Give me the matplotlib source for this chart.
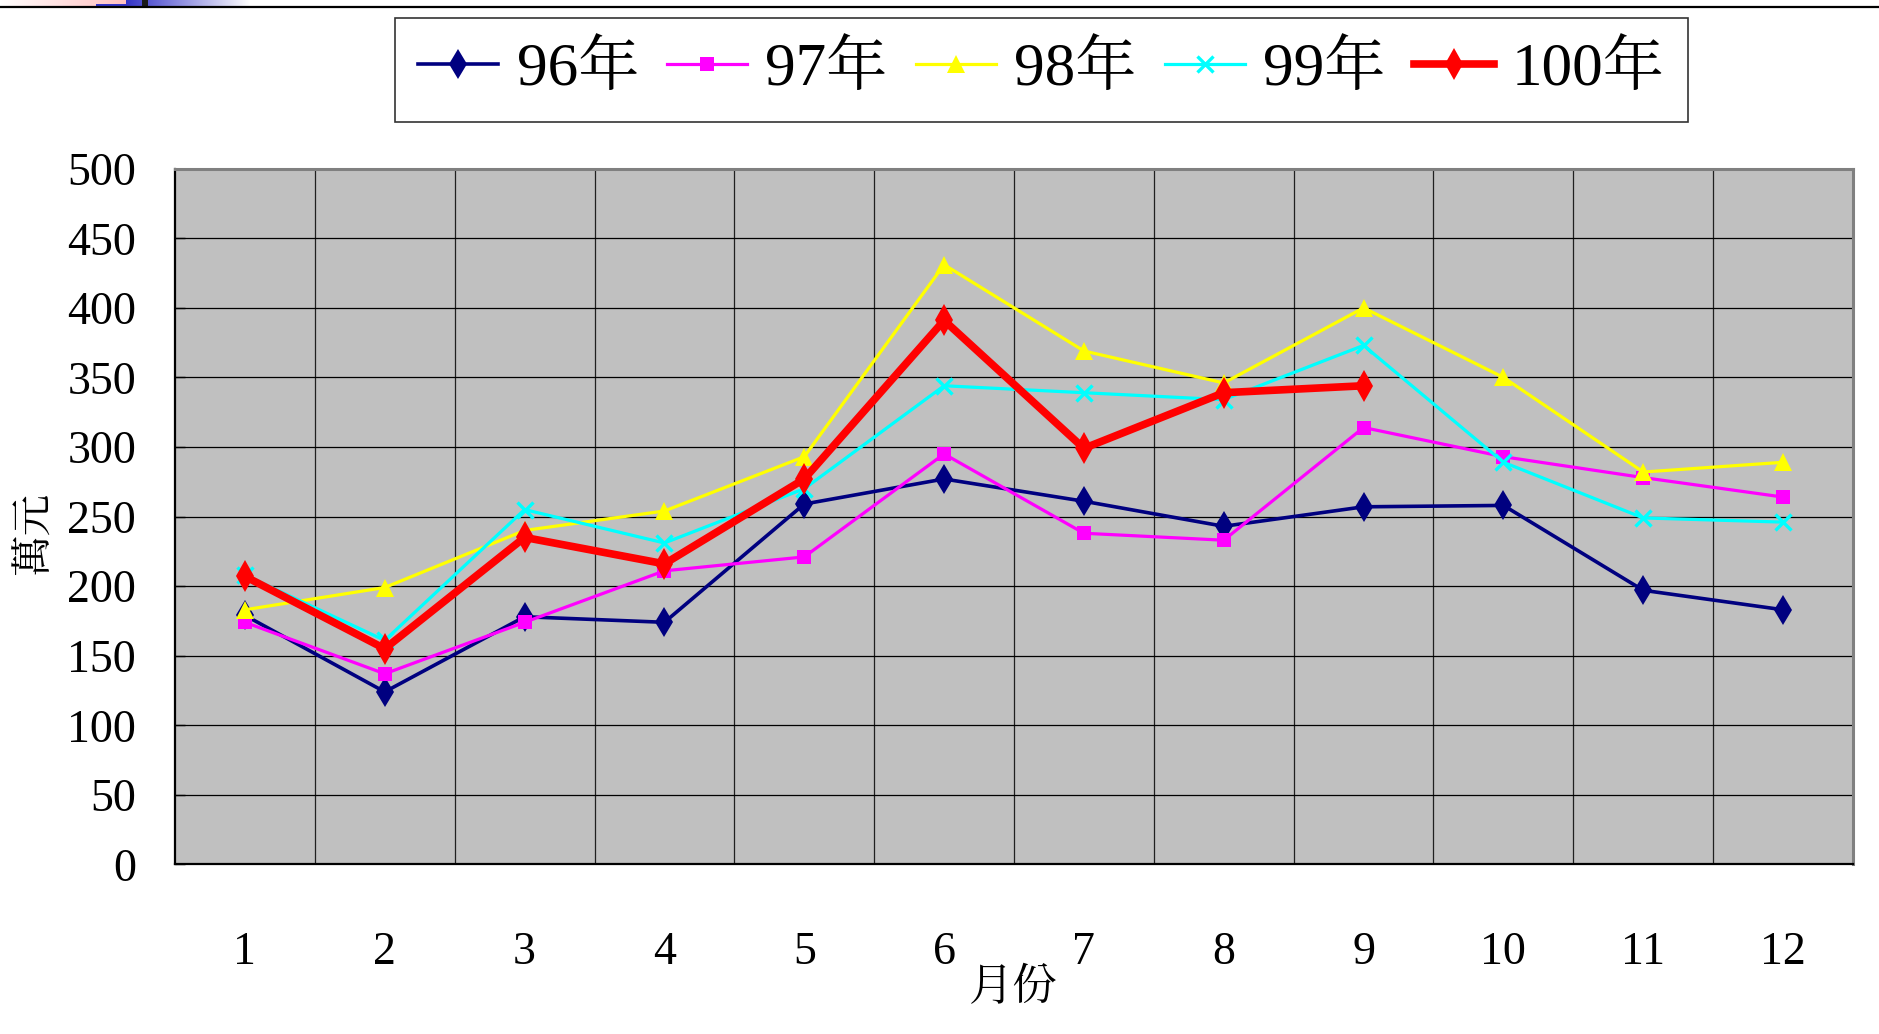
import numpy as np
import matplotlib
matplotlib.use("Agg")
import matplotlib.pyplot as plt
from matplotlib.lines import Line2D
from matplotlib.font_manager import FontProperties

# ---- data ----
months = [1, 2, 3, 4, 5, 6, 7, 8, 9, 10, 11, 12]
month_labels = ["1", "2", "3", "4", "5", "6", "7", "8", "9", "10", "11", "12"]
y96 = [179, 124, 178, 174, 259, 277, 261, 243, 257, 258, 197, 183]
y97 = [174, 137, 174, 211, 221, 295, 238, 233, 314, 293, 278, 264]
y98 = [183, 199, 240, 254, 293, 431, 369, 346, 400, 350, 282, 289]
y99 = [208, 161, 255, 231, 270, 344, 339, 334, 373, 289, 249, 246]
y100 = [207, 155, 235, 216, 277, 391, 299, 339, 344]
series_names = ["96年", "97年", "98年", "99年", "100年"]
yticks = [0, 50, 100, 150, 200, 250, 300, 350, 400, 450, 500]

FONT = ["Liberation Serif", "Noto Serif CJK TC", "Noto Sans CJK TC", "DejaVu Sans"]
plt.rcParams["font.family"] = FONT

W, H = 1879, 1034
fig = plt.figure(figsize=(W / 100, H / 100), dpi=100)
fig.patch.set_facecolor("white")

# axes placement (pixel based)
left, right, top, bottom = 175, 1853, 168.7, 864.4
ax = fig.add_axes([left / W, 1 - bottom / H, (right - left) / W, (bottom - top) / H])
ax.set_facecolor("#C0C0C0")

styles = [
    dict(color="#000080", marker="d", ms=15, lw=2.6, mew=0),
    dict(color="#FF00FF", marker="s", ms=10.5, lw=2.3, mew=0),
    dict(color="#FFFF00", marker="^", ms=12.5, lw=2.3, mew=0),
    dict(color="#00FFFF", marker="x", ms=12, lw=2.3, mew=2.4),
    dict(color="#FF0000", marker="d", ms=16, lw=5.5, mew=0),
]
data = [y96, y97, y98, y99, y100]
handles = []
for name, vals, st in zip(series_names, data, styles):
    h, = ax.plot(months[:len(vals)], vals, label=name, zorder=3, **st)
    handles.append(h)

ax.set_xlim(0.5, 12.5)
ax.set_ylim(0, 500)
ax.set_yticks(yticks)
ax.set_yticklabels([str(v) for v in yticks])
ax.set_xticks(months)
ax.set_xticklabels(month_labels)
ax.set_xticks(np.arange(1.5, 12.5, 1.0), minor=True)

ax.grid(True, axis="y", which="major", color="black", lw=0.9, zorder=1)
ax.grid(True, axis="x", which="minor", color="#202020", lw=0.9, zorder=1)
ax.grid(False, axis="x", which="major")
ax.set_axisbelow(True)

ax.tick_params(axis="y", which="major", direction="in", length=7, width=1, color="black",
               labelsize=33, pad=28)
ax.tick_params(axis="x", which="major", length=0, labelsize=33, pad=48)
ax.tick_params(axis="x", which="minor", length=0)

for s in ["left", "bottom"]:
    ax.spines[s].set_color("black")
    ax.spines[s].set_linewidth(1.6)
for s in ["top", "right"]:
    ax.spines[s].set_color("#808080")
    ax.spines[s].set_linewidth(2.2)

# axis titles
fig.text(36 / W, 1 - 533 / H, "萬元", rotation=90, ha="center", va="center",
         fontsize=30, family=FONT)
fig.text(1013 / W, 1 - 989 / H, "月份", ha="center", va="center",
         fontsize=32, family=FONT)

# legend (layout by matplotlib; labels re-drawn as figure texts at the same anchors)
LEG_FS = 44
legprop = FontProperties(family=FONT, size=LEG_FS)
leg = fig.legend(handles=handles, labels=series_names, loc="center",
                 bbox_to_anchor=(1041.5 / W, 1 - 70 / H), ncol=5,
                 prop=legprop, frameon=True, fancybox=False, shadow=False,
                 handlelength=1.31, handletextpad=0.3, columnspacing=0.46,
                 borderpad=0.38, markerscale=1.0)
leg.get_frame().set_edgecolor("black")
leg.get_frame().set_linewidth(1.2)

fig.canvas.draw()
for t, name in zip(leg.get_texts(), series_names):
    x, y = t.get_transform().transform(t.get_position())
    t.set_visible(False)
    fig.text(x / W, y / H, name, ha="left", va="baseline",
             fontsize=LEG_FS, family=FONT, zorder=6)

# slide decoration at top
fig.add_artist(Line2D([0, 1], [1 - 7 / H, 1 - 7 / H], transform=fig.transFigure,
                      color="black", lw=1.6))
deco = fig.add_axes([0, 1 - 6 / H, 250 / W, 6 / H])
deco.axis("off")
xs = np.linspace(0, 1, 250)
img = np.ones((6, 250, 3))
for i, xv in enumerate(xs):
    px = xv * 250
    if px < 126:
        tt = px / 126
        img[:, i] = [1.0, 1 - 0.25 * tt, 1 - 0.25 * tt]
    else:
        tt = (px - 126) / 124
        base = np.array([0.2, 0.2, 0.78])
        img[:, i] = base + (1 - base) * tt
    if 96 <= px < 126:
        img[4:, i] = [0.2, 0.2, 0.78]
    if 142 <= px < 148:
        img[:, i] = [0.1, 0.1, 0.1]
deco.imshow(img, aspect="auto", extent=[0, 250, 0, 6])

fig.savefig("out.png", dpi=100, facecolor="white")
